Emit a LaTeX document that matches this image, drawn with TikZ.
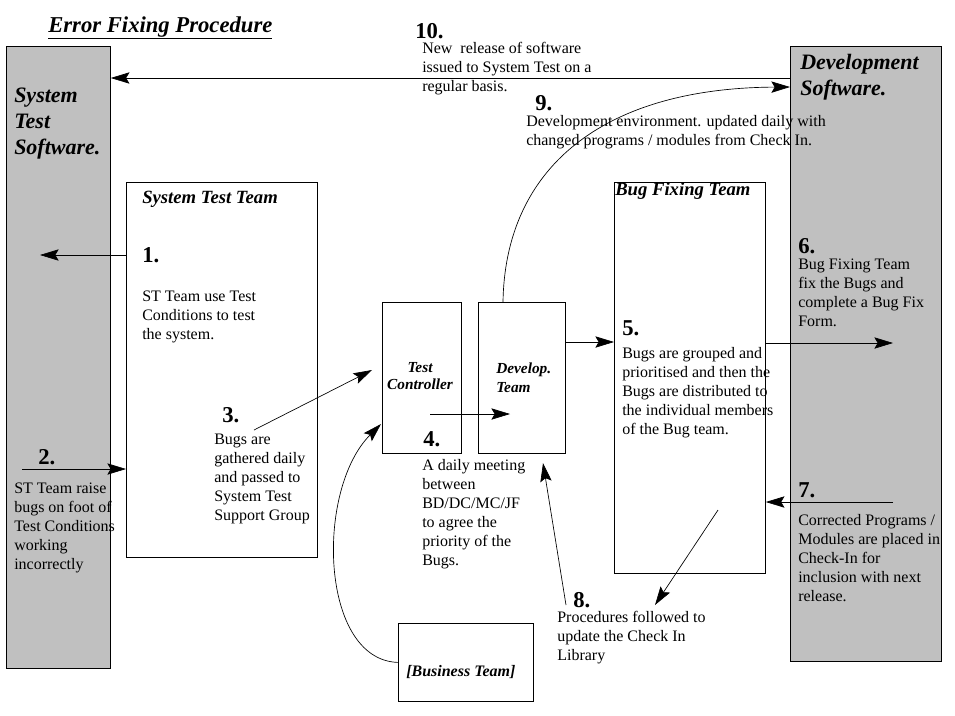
\documentclass[tikz,border=0pt]{standalone}
\usepackage{fontspec}
\setmainfont{Liberation Serif}
\usetikzlibrary{arrows.meta}
\definecolor{softgrey}{RGB}{192,192,192}
\tikzset{
  softbox/.style={draw, fill=softgrey, line width=0.6pt, inner sep=0pt, anchor=north west},
  teambox/.style={draw, fill=white, line width=0.6pt, inner sep=0pt, anchor=north west},
  boxlabel/.style={font=\fontsize{16.5}{19.5}\selectfont\bfseries\itshape, align=left, anchor=north west, inner sep=0pt},
  teamlabel/.style={font=\fontsize{14}{16}\selectfont\bfseries\itshape, anchor=base west, inner sep=0pt},
  smalllabel/.style={font=\fontsize{11.5}{13}\selectfont\bfseries\itshape, inner sep=0pt},
  stepnum/.style={font=\fontsize{17}{20}\selectfont\bfseries, anchor=base west, inner sep=0pt},
  note/.style={font=\fontsize{12}{14.2}\selectfont, align=left, anchor=north west, inner sep=0pt},
  arr/.style={-{Stealth[length=14pt,width=8.5pt,inset=2.5pt]}, line width=0.5pt}
}
\begin{document}
\begin{tikzpicture}[x=0.75pt,y=-0.75pt]
        \useasboundingbox (0,0) rectangle (955,715);
        % software and team boxes
        \node[softbox, minimum width=78pt, minimum height=466.5pt] (sts) at (6,46) {};
        \node[softbox, minimum width=113.25pt, minimum height=461.25pt] (devsw) at (790,46) {};
        \node[teambox, minimum width=143.25pt, minimum height=281.25pt] (stteam) at (126,182) {};
        \node[teambox, minimum width=59.25pt, minimum height=113.25pt] (testctl) at (382,302) {};
        \node[teambox, minimum width=65.25pt, minimum height=113.25pt] (devteam) at (478,302) {};
        \node[teambox, minimum width=113.25pt, minimum height=293.25pt] (bugfix) at (614,182) {};
        \node[teambox, minimum width=101.25pt, minimum height=58.5pt] (busteam) at (398,623) {};
        % labels
        \node[font=\fontsize{17}{20}\selectfont\bfseries\itshape, anchor=base west, inner sep=0pt] (title) at (48,32) {\underline{Error Fixing Procedure}};
        \node[boxlabel] (lsts) at (14,88) {System\\Test\\Software.};
        \node[boxlabel] (ldev) at (800,54) {Development\\Software.};
        \node[teamlabel] (lstt) at (142,203) {System Test Team};
        \node[teamlabel] (lbug) at (615,195) {Bug Fixing Team};
        \node[smalllabel, align=center, anchor=north] (ltc) at (420,362) {Test\\Controller};
        \node[smalllabel, align=left, anchor=north west, font=\fontsize{11.5}{14.2}\selectfont\bfseries\itshape] (ldt) at (496,363) {Develop.\\Team};
        \node[smalllabel, anchor=base west, font=\fontsize{12}{14}\selectfont\bfseries\itshape] (lbus) at (406,676) {[Business Team]};
        % step numbers
        \foreach \Pos/\Num in {(142,262)/1, (38,464)/2, (222,422)/3, (423,446)/4, (622,335)/5, (798,253)/6, (798,497)/7, (573,607)/8, (535,110)/9, (415,38)/10}
        \node[stepnum] (n\Num) at \Pos {\Num.};
        % step texts
        \node[note] (t1) at (142,291) {ST Team use Test\\Conditions to test\\the system.};
        \node[note] (t2) at (14,483) {ST Team raise\\bugs on foot of\\Test Conditions\\working\\incorrectly};
        \node[note] (t3) at (214,434) {Bugs are\\gathered daily\\and passed to\\System Test\\Support Group};
        \node[note] (t4) at (422,459) {A daily meeting\\between\\BD/DC/MC/JF\\to agree the\\priority of the\\Bugs.};
        \node[note] (t5) at (622,347) {Bugs are grouped and\\prioritised and then the\\Bugs are distributed to\\the individual members\\of the Bug team.};
        \node[note] (t6) at (798,259) {Bug Fixing Team\\fix the Bugs and\\complete a Bug Fix\\Form.};
        \node[note] (t7) at (798,514) {Corrected Programs /\\Modules are placed in\\Check-In for\\inclusion with next\\release.};
        \node[note] (t8) at (557,611) {Procedures followed to\\update the Check In\\Library};
        \node[note] (t9) at (526,115) {Development environment. updated daily with\\changed programs / modules from Check In.};
        \node[note] (t10) at (422,42) {New\ \ release of software\\issued to System Test on a\\regular basis.};
        % connector ends
        \coordinate (c10) at (0,78);
        \coordinate (c1) at (40,255);
        \coordinate (c2) at (22,469);
        \coordinate (c3s) at (254,430);
        \coordinate (c3e) at (372,370);
        \coordinate (c4s) at (430,414);
        \coordinate (c4e) at (510,414);
        \coordinate (c5) at (0,342);
        \coordinate (c6) at (893,343);
        \coordinate (c7) at (893,502);
        \coordinate (c8s) at (718,510);
        \coordinate (c8e) at (655,605);
        \coordinate (c8u) at (566,605);
        \coordinate (c8t) at (543,463);
        \coordinate (cbus) at (381,424);
        \coordinate (c9s) at (503,302);
        \coordinate (c9e) at (0,87);
        % arrows
        \draw[arr] (devsw.west |- c10) -- (sts.east |- c10);
        \draw[arr] (stteam.west |- c1) -- (c1);
        \draw[arr] (c2) -- (stteam.west |- c2);
        \draw[arr] (c3s) -- (c3e);
        \draw[arr] (c4s) -- (c4e);
        \draw[arr] (devteam.east |- c5) -- (bugfix.west |- c5);
        \draw[arr] (bugfix.east |- c6) -- (c6);
        \draw[arr] (c7) -- (bugfix.east |- c7);
        \draw[arr] (c8s) -- (c8e);
        \draw[arr] (c8u) -- (c8t);
        \draw[arr] (busteam.west) .. controls (320,660) and (315,490) .. (cbus);
        \draw[arr] (c9s) .. controls (505,170) and (600,88) .. (devsw.west |- c9e);
\end{tikzpicture}
\end{document}
